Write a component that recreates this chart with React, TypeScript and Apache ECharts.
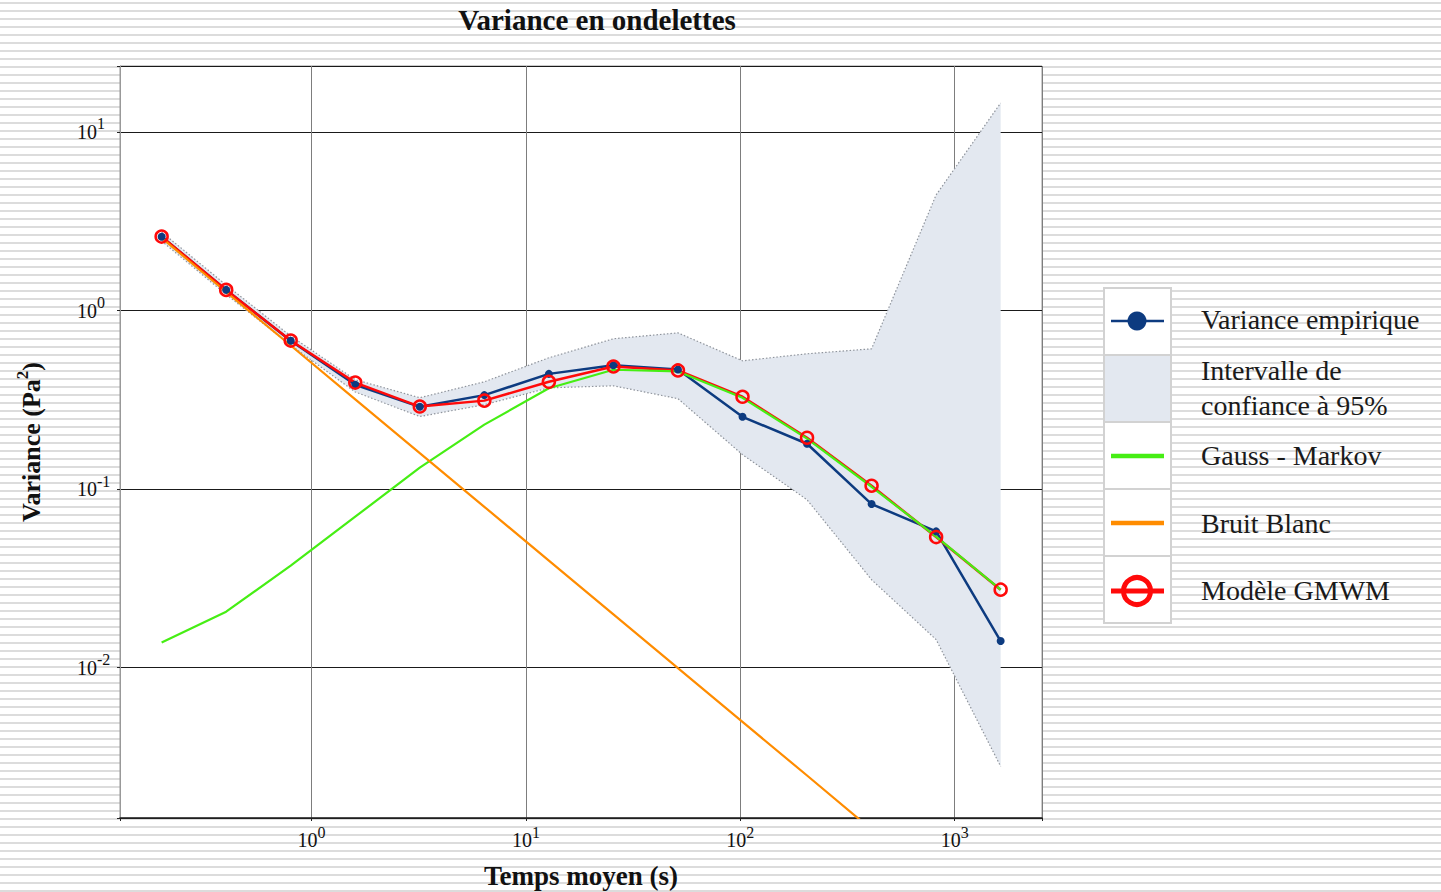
import React, { useEffect, useRef } from 'react';
import * as echarts from 'echarts';

// Averaging times (s)
const tau = [0.2, 0.4, 0.8, 1.6, 3.2, 6.4, 12.8, 25.6, 51.2, 102.4, 204.8, 409.6, 819.2, 1638.4];
// Empirical wavelet variance
const empirical = [2.59, 1.305, 0.678, 0.384, 0.289, 0.336, 0.442, 0.494, 0.468, 0.254, 0.1795, 0.0825, 0.058, 0.0141];
// GMWM model (Gauss-Markov + white noise)
const gmwm = [2.595, 1.305, 0.679, 0.395, 0.29, 0.313, 0.399, 0.486, 0.462, 0.329, 0.194, 0.1045, 0.0539, 0.02735];
// Gauss-Markov component
const gaussMarkov = [0.01382, 0.0206, 0.0373, 0.0701, 0.1318, 0.2296, 0.367, 0.466, 0.456, 0.3246, 0.1916, 0.1031, 0.0542, 0.0274];
// White noise component
const whiteNoise = [2.55, 1.27, 0.637, 0.318, 0.159, 0.0796, 0.0398, 0.0199, 0.00995, 0.00497, 0.00249, 0.00124, 0.000622, 0.000311];
// 95% confidence interval
const ciLower = [2.45, 1.23, 0.64, 0.35, 0.255, 0.297, 0.369, 0.379, 0.321, 0.156, 0.0872, 0.0311, 0.01437, 0.0028];
const ciUpper = [2.75, 1.39, 0.72, 0.41, 0.325, 0.399, 0.544, 0.695, 0.75, 0.523, 0.5725, 0.6105, 4.44, 14.53];

// Tick label exponents (10^n)
const xTickExponents = [0, 1, 2, 3];
const yTickExponents = [-2, -1, 0, 1];

const legendLabels = ['Variance empirique', 'Intervalle de\nconfiance à 95%', 'Gauss - Markov', 'Bruit Blanc', 'Modèle GMWM'];

const NAVY = '#0d3b80';
const RED = '#ff0a0a';
const GREEN = '#46ee14';
const ORANGE = '#ff8c00';
const BAND = '#e3e8f0';
const FONT = "'Liberation Serif', 'Times New Roman', serif";

function powLabel(exps: number[]) {
  return (v: number) => {
    const l = Math.log10(v);
    const e = Math.round(l);
    if (Math.abs(l - e) > 1e-6 || exps.indexOf(e) < 0) return '';
    return `{b|10}{s|${e}}`;
  };
}

const richLabel = {
  b: { fontSize: 20, lineHeight: 20, fontFamily: FONT, color: '#111' },
  s: { fontSize: 16, lineHeight: 16, fontFamily: FONT, color: '#111', padding: [0, 0, 16, 0] },
};

export default function App() {
  const ref = useRef<HTMLDivElement>(null);
  useEffect(() => {
    if (!ref.current) return;
    const chart = echarts.init(ref.current, undefined, { renderer: 'svg' });
    const pair = (arr: number[]) => tau.map((t, i) => [t, arr[i]]);

    const cellX = 1104;
    const cellW = 67;
    const rows = [288, 355, 422, 489, 556, 623];
    const legendGraphics: any[] = [];
    for (let i = 0; i < 5; i++) {
      legendGraphics.push({
        type: 'rect',
        shape: { x: cellX, y: rows[i], width: cellW, height: rows[i + 1] - rows[i] },
        style: { fill: i === 1 ? BAND : '#fff', stroke: '#d2d2d2', lineWidth: 2 },
        z: 10,
      });
    }
    const lx1 = 1111, lx2 = 1164, cx = 1137;
    legendGraphics.push(
      { type: 'line', shape: { x1: lx1, y1: 321, x2: lx2, y2: 321 }, style: { stroke: NAVY, lineWidth: 2.5 }, z: 11 },
      { type: 'circle', shape: { cx, cy: 321, r: 9.5 }, style: { fill: NAVY }, z: 11 },
      { type: 'line', shape: { x1: lx1, y1: 456, x2: lx2, y2: 456 }, style: { stroke: GREEN, lineWidth: 4.5 }, z: 11 },
      { type: 'line', shape: { x1: lx1, y1: 523, x2: lx2, y2: 523 }, style: { stroke: ORANGE, lineWidth: 4.5 }, z: 11 },
      { type: 'circle', shape: { cx, cy: 591, r: 13.5 }, style: { fill: '#fff', stroke: RED, lineWidth: 5 }, z: 11 },
      { type: 'line', shape: { x1: lx1, y1: 591, x2: lx2, y2: 591 }, style: { stroke: RED, lineWidth: 5 }, z: 12 },
    );
    const textYs = [319, 380 - 9.5, 465 - 9.5, 533 - 9.5, 600 - 9.5];
    legendLabels.forEach((t, i) => {
      if (i === 1) {
        const parts = t.split('\n');
        legendGraphics.push(
          { type: 'text', x: 1201, y: 370.5, style: { text: parts[0], font: `28px ${FONT}`, fill: '#1a1a1a', verticalAlign: 'middle' }, z: 11 },
          { type: 'text', x: 1201, y: 405.5, style: { text: parts[1], font: `28px ${FONT}`, fill: '#1a1a1a', verticalAlign: 'middle' }, z: 11 },
        );
      } else {
        legendGraphics.push({ type: 'text', x: 1201, y: textYs[i], style: { text: t, font: `28px ${FONT}`, fill: '#1a1a1a', verticalAlign: 'middle' }, z: 11 });
      }
    });

    chart.setOption({
      animation: false,
      grid: {
        left: 120, top: 66, width: 922, height: 752, show: true, backgroundColor: '#fff', borderColor: '#999', borderWidth: 1,
        containLabel: false, outerBoundsMode: 'none',
      },
      graphic: [
        { type: 'text', x: 597, y: 20, style: { text: 'Variance en ondelettes', font: `bold 29px ${FONT}`, fill: '#111', align: 'center', verticalAlign: 'middle' }, z: 10 },
        ...legendGraphics,
      ],
      xAxis: {
        type: 'log',
        logBase: 10,
        min: 0.1279,
        max: 2554,
        name: 'Temps moyen (s)',
        nameLocation: 'middle',
        nameGap: 44,
        nameTextStyle: { fontFamily: FONT, fontSize: 27, fontWeight: 'bold', color: '#111' },
        axisLine: { show: true, lineStyle: { color: '#222', width: 1.5 } },
        axisTick: { show: true, length: 3, lineStyle: { color: '#222' } },
        axisLabel: { formatter: powLabel(xTickExponents), fontSize: 20, fontFamily: FONT, color: '#111', rich: richLabel, margin: 12, showMinLabel: true, showMaxLabel: true, hideOverlap: false },
        splitLine: { show: true, lineStyle: { color: '#7d7d7d', width: 1 } },
      },
      yAxis: {
        type: 'log',
        logBase: 10,
        min: 0.00144,
        max: 23.41,
        name: '{n|Variance (Pa}{s|2}{n|)}',
        nameLocation: 'middle',
        nameGap: 76,
        nameTextStyle: {
          rich: {
            n: { fontFamily: FONT, fontSize: 26, fontWeight: 'bold', color: '#111', lineHeight: 26 },
            s: { fontFamily: FONT, fontSize: 17, fontWeight: 'bold', color: '#111', lineHeight: 17, padding: [0, 0, 18, 0] },
          },
        },
        axisLine: { show: true, lineStyle: { color: '#999', width: 1 } },
        axisTick: { show: true, length: 3, lineStyle: { color: '#222' } },
        axisLabel: { formatter: powLabel(yTickExponents), fontSize: 20, fontFamily: FONT, color: '#111', rich: richLabel, align: 'left', margin: 43, hideOverlap: false },
        splitLine: { show: true, lineStyle: { color: '#1a1a1a', width: 1 } },
      },
      series: [
        {
          type: 'custom',
          name: 'Intervalle de confiance à 95%',
          data: tau.map((t, i) => [t, ciLower[i], ciUpper[i]]),
          encode: { x: 0, y: [1, 2] },
          renderItem: (params: any, api: any) => {
            if (params.dataIndex !== 0) return null;
            const pts: number[][] = [];
            for (let i = 0; i < tau.length; i++) pts.push(api.coord([tau[i], ciUpper[i]]));
            for (let i = tau.length - 1; i >= 0; i--) pts.push(api.coord([tau[i], ciLower[i]]));
            return { type: 'polygon', shape: { points: pts }, style: { fill: BAND }, silent: true };
          },
          silent: true,
        },
        {
          type: 'line', data: pair(ciUpper), showSymbol: false, silent: true,
          lineStyle: { color: '#8f949c', width: 1.2, type: [1.5, 2] },
        },
        {
          type: 'line', data: pair(ciLower), showSymbol: false, silent: true,
          lineStyle: { color: '#8f949c', width: 1.2, type: [1.5, 2] },
        },
        {
          type: 'line', name: 'Variance empirique', data: pair(empirical),
          symbol: 'circle', symbolSize: 8, showAllSymbol: true,
          itemStyle: { color: NAVY }, lineStyle: { color: NAVY, width: 2.5 },
        },
        {
          type: 'line', name: 'Modèle GMWM', data: pair(gmwm),
          symbol: 'circle', symbolSize: 12, showAllSymbol: true,
          itemStyle: { color: 'rgba(0,0,0,0)', borderColor: RED, borderWidth: 2.5 }, lineStyle: { color: RED, width: 2.5 },
        },
        {
          type: 'line', name: 'Gauss - Markov', data: pair(gaussMarkov), showSymbol: false,
          lineStyle: { color: GREEN, width: 2.2 },
        },
        {
          type: 'line', name: 'Bruit Blanc', data: pair(whiteNoise), showSymbol: false, clip: true,
          lineStyle: { color: ORANGE, width: 2.2 },
        },
      ],
    });
    return () => chart.dispose();
  }, []);

  return (
    <div
      style={{
        position: 'absolute', left: 0, top: 0, width: 1441, height: 892,
        backgroundColor: '#fff',
        backgroundImage: 'repeating-linear-gradient(180deg, #ffffff 0px, #ffffff 2px, #dcdcdc 2px, #dcdcdc 4px, #ffffff 4px, #ffffff 8px)',
      }}
    >
      <div ref={ref} style={{ width: 1441, height: 892 }} />
    </div>
  );
}
